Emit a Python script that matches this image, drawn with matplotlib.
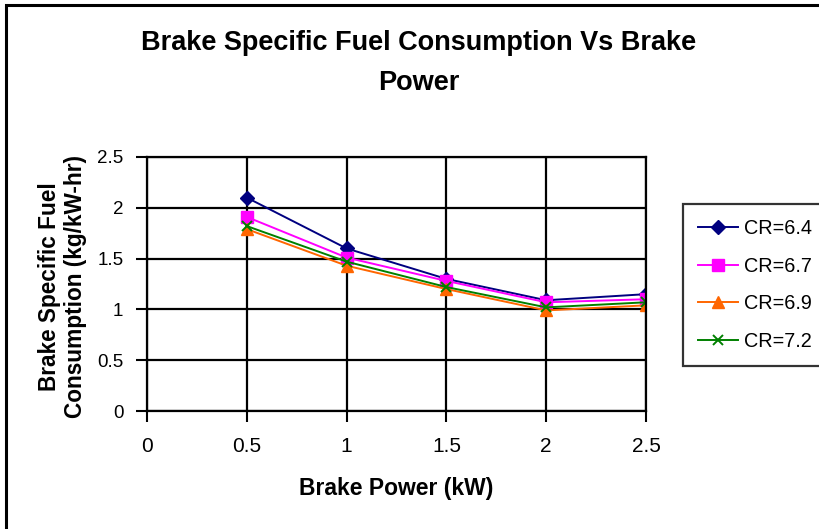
import numpy as np
import matplotlib
matplotlib.use('Agg')
import matplotlib.pyplot as plt
from matplotlib.patches import Rectangle

plt.rcParams['font.family'] = ['Liberation Sans', 'DejaVu Sans']

# brake power (kW)
power = [0.5, 1.0, 1.5, 2.0, 2.5]

# bsfc (kg/kW-hr) for each compression ratio
bsfc_64 = [2.10, 1.60, 1.30, 1.09, 1.15]
bsfc_67 = [1.91, 1.51, 1.28, 1.07, 1.10]
bsfc_69 = [1.79, 1.43, 1.20, 0.99, 1.04]
bsfc_72 = [1.82, 1.47, 1.22, 1.02, 1.07]

labels = ['CR=6.4', 'CR=6.7', 'CR=6.9', 'CR=7.2']
xticks = [0, 0.5, 1, 1.5, 2, 2.5]
yticks = [0, 0.5, 1, 1.5, 2, 2.5]
ticklabels = ['0', '0.5', '1', '1.5', '2', '2.5']

fig = plt.figure(figsize=(8.2, 5.29), dpi=100)
ax = fig.add_axes([147/820, 1-411/529, (646-147)/820, (411-157)/529])

# chart border (right and bottom edges fall outside the picture)
fig.patches.append(Rectangle((6/820, -0.1), 1.2, 1-5/529+0.1, transform=fig.transFigure,
                             fill=False, edgecolor='black', linewidth=2.2, clip_on=False))

ax.plot(power, bsfc_64, color='#000080', marker='D', markersize=7, linewidth=1.4, label=labels[0])
ax.plot(power, bsfc_67, color='#FF00FF', marker='s', markersize=8, linewidth=1.4, label=labels[1])
ax.plot(power, bsfc_69, color='#FF6600', marker='^', markersize=9, linewidth=1.4, label=labels[2])
ax.plot(power, bsfc_72, color='#008000', marker='x', markersize=7, markeredgewidth=1.4, linewidth=1.4, label=labels[3])

ax.set_xlim(0, 2.5)
ax.set_ylim(0, 2.5)
ax.set_xticks(xticks)
ax.set_yticks(yticks)
ax.set_xticklabels(ticklabels, fontsize=15)
ax.set_yticklabels(ticklabels, fontsize=13.5)
ax.tick_params(direction='out', length=8, width=1.5, color='black')
ax.tick_params(axis='y', pad=9)
ax.tick_params(axis='x', pad=11)
ax.grid(True, color='black', linewidth=1.6)
ax.set_axisbelow(True)
for s in ax.spines.values():
    s.set_linewidth(1.6)
    s.set_color('black')

ax.set_xlabel('Brake Power (kW)', fontsize=16.5, fontweight='bold', labelpad=15)
ax.set_ylabel('Brake Specific Fuel\nConsumption (kg/kW-hr)', fontsize=16.3, fontweight='bold',
              linespacing=1.15)
ax.yaxis.set_label_coords(-(147-87)/499, 0.49)

fig.text(419/820, 1-63/529, 'Brake Specific Fuel Consumption Vs Brake\nPower', ha='center', va='center',
         fontsize=19.5, fontweight='bold', linespacing=1.75)

# legend runs off the right edge like the original, but keep the labels inside
leg = fig.legend(loc='upper left', bbox_to_anchor=(683/820, 1-204/529), fontsize=14.3,
                 frameon=True, fancybox=False, edgecolor='black', handlelength=2.0,
                 labelspacing=0.94, borderpad=0.75, handletextpad=0.3, borderaxespad=0)
leg.get_frame().set_linewidth(1.6)

fig.savefig('out.png', dpi=100)
